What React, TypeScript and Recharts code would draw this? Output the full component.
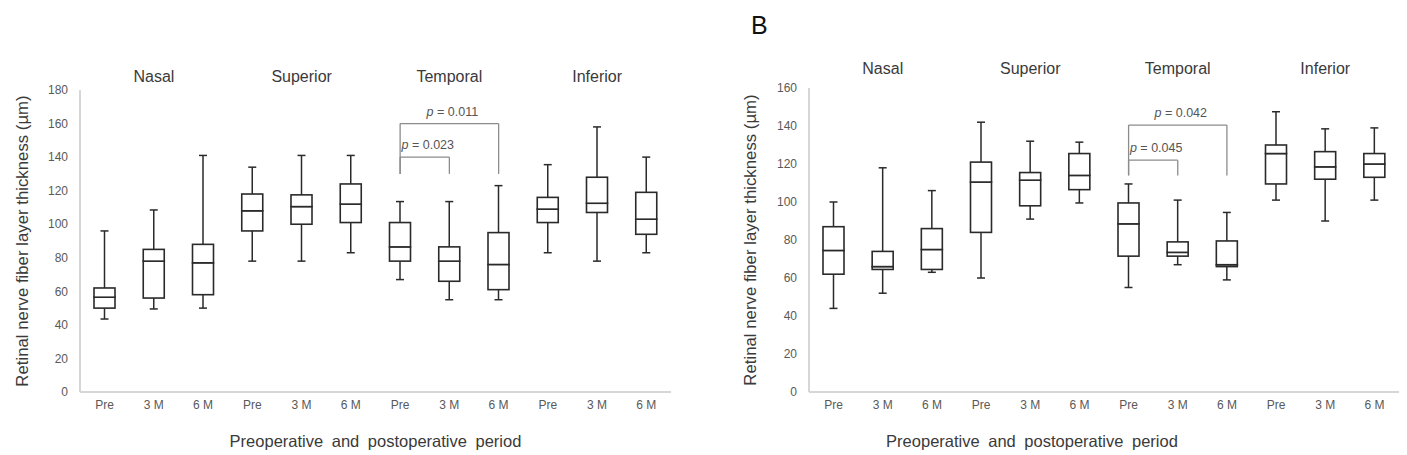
import React from "react";
import { ComposedChart, Bar, Line, XAxis, YAxis, ReferenceLine } from "recharts";

// ── Data ──────────────────────────────────────────────────────

const SECTORS = ["Nasal", "Superior", "Temporal", "Inferior"];
const PERIODS = ["Pre", "3 M", "6 M"];

// Panel A (µm), one entry per sector × period
const A_MIN = [43.5, 49.5, 50, 78, 78, 83, 67, 55, 55, 83, 78, 83];
const A_Q1 = [50, 56, 58, 96, 100, 101, 78, 66, 61, 101, 107, 94];
const A_MEDIAN = [56.5, 78, 77, 108, 110.5, 112, 86.5, 78, 76, 109, 112.5, 103];
const A_Q3 = [62, 85, 88, 118, 117.5, 124, 101, 86.5, 95, 116, 128, 119];
const A_MAX = [96, 108.5, 141, 134, 141, 141, 113.5, 113.5, 123, 135.5, 158, 140];
const A_TICKS = [0, 20, 40, 60, 80, 100, 120, 140, 160, 180];

// Panel B (µm)
const B_MIN = [44, 52, 63, 60, 91, 99.5, 55, 67, 59, 101, 90, 101];
const B_Q1 = [62, 64.5, 64.5, 84, 98, 106.5, 71.5, 71.5, 66, 109.5, 112, 113];
const B_MEDIAN = [74.5, 66, 75, 110.5, 111.5, 114, 88.5, 73.5, 67, 125.5, 118.5, 120];
const B_Q3 = [87, 74, 86, 121, 115.5, 125.5, 99.5, 79, 79.5, 130, 126.5, 125.5];
const B_MAX = [100, 118, 106, 142, 132, 131.5, 109.5, 101, 94.5, 147.5, 138.5, 139];
const B_TICKS = [0, 20, 40, 60, 80, 100, 120, 140, 160];

// Significance brackets: [from, to, bracket top, leg foot, p]
const A_SIG: [string, string, number, number, string][] = [
  ["Temporal|Pre", "Temporal|6 M", 160, 130, "0.011"],
  ["Temporal|Pre", "Temporal|3 M", 140, 130, "0.023"],
];
const B_SIG: [string, string, number, number, string][] = [
  ["Temporal|Pre", "Temporal|6 M", 140.5, 114, "0.042"],
  ["Temporal|Pre", "Temporal|3 M", 122, 114, "0.045"],
];

const Y_TITLE = "Retinal nerve fiber layer thickness (µm)";
const X_TITLE = "Preoperative and postoperative period";

// ── Styling ───────────────────────────────────────────────────

const FONT = "'Liberation Sans', Arial, sans-serif";
const INK = "#2a2a2a";
const AXIS = "#d6d6d6";
const TICK = "#595959";
const TITLE = "#3a3a3a";
const CAP = 4;

// stacked segments: invisible base, lower whisker, lower box, upper box, upper whisker
function buildRows(min: number[], q1: number[], med: number[], q3: number[], max: number[]) {
  return SECTORS.flatMap((sector, si) =>
    PERIODS.map((period, pi) => {
      const i = si * PERIODS.length + pi;
      return {
        key: `${sector}|${period}`,
        base: min[i],
        lowWhisker: q1[i] - min[i],
        lowBox: med[i] - q1[i],
        highBox: q3[i] - med[i],
        highWhisker: max[i] - q3[i],
      };
    })
  );
}

// ── Shapes ────────────────────────────────────────────────────

function LowWhisker(p: any) {
  const cx = p.x + p.width / 2;
  const bottom = p.y + p.height;
  return (
    <g stroke={INK} strokeWidth={1.5}>
      <line x1={cx} x2={cx} y1={p.y} y2={bottom} />
      <line x1={cx - CAP} x2={cx + CAP} y1={bottom} y2={bottom} />
    </g>
  );
}

function HighWhisker(p: any) {
  const cx = p.x + p.width / 2;
  return (
    <g stroke={INK} strokeWidth={1.5}>
      <line x1={cx} x2={cx} y1={p.y} y2={p.y + p.height} />
      <line x1={cx - CAP} x2={cx + CAP} y1={p.y} y2={p.y} />
    </g>
  );
}

function BoxPart(p: any) {
  return (
    <rect x={p.x} y={p.y} width={p.width} height={Math.max(p.height, 0)}
      fill="#fff" stroke={INK} strokeWidth={1.6} />
  );
}

function SectorTick({ x, y, payload }: any) {
  const [sector, period] = String(payload.value).split("|");
  if (period !== PERIODS[1]) return <g />;
  return (
    <text x={x} y={y} textAnchor="middle" fontSize={16} fill={TITLE}>
      {sector}
    </text>
  );
}

function PValue({ viewBox, text }: any) {
  if (!viewBox) return null;
  const cx = viewBox.x + viewBox.width / 2 + 3;
  return (
    <text x={cx} y={viewBox.y - 8} textAnchor="middle" fontSize={12.5} fill="#555">
      <tspan fontStyle="italic">p</tspan> = {text}
    </text>
  );
}

// ── Panel ─────────────────────────────────────────────────────

interface PanelProps {
  rows: ReturnType<typeof buildRows>;
  ticks: number[];
  sig: [string, string, number, number, string][];
  width: number;
  yAxisWidth: number;
  rightMargin: number;
  topHeight: number;
  titleGap: number;
  yTitleDx: number;
  xTitleDx: number;
}

function BoxPanel({ rows, ticks, sig, width, yAxisWidth, rightMargin, topHeight, titleGap, yTitleDx, xTitleDx }: PanelProps) {
  return (
    <ComposedChart
      width={width}
      height={455}
      data={rows}
      margin={{ top: 0, right: rightMargin, bottom: 3, left: 0 }}
    >
      <XAxis
        xAxisId="sector"
        orientation="top"
        dataKey="key"
        height={topHeight}
        interval={0}
        axisLine={false}
        tickLine={false}
        tickMargin={titleGap}
        tick={<SectorTick />}
      />
      <XAxis
        xAxisId="period"
        dataKey="key"
        height={60}
        interval={0}
        tickLine={false}
        axisLine={{ stroke: AXIS, strokeWidth: 2 }}
        tick={{ fontSize: 12, fill: TICK }}
        tickFormatter={(v: string) => v.split("|")[1]}
        label={{
          value: X_TITLE,
          position: "insideBottom",
          dx: xTitleDx,
          style: { fontSize: 16.5, fill: TITLE, wordSpacing: 4 },
        }}
      />
      <YAxis
        width={yAxisWidth}
        domain={[ticks[0], ticks[ticks.length - 1]]}
        ticks={ticks}
        interval={0}
        tickLine={false}
        tickMargin={6}
        axisLine={{ stroke: AXIS, strokeWidth: 2 }}
        tick={{ fontSize: 12, fill: TICK }}
        label={{
          value: Y_TITLE,
          angle: -90,
          position: "insideLeft",
          dx: yTitleDx,
          style: { fontSize: 16.8, fill: TITLE, textAnchor: "middle" },
        }}
      />

      <Bar xAxisId="period" dataKey="base" stackId="box" barSize={21} fill="transparent" isAnimationActive={false} />
      <Bar xAxisId="period" dataKey="lowWhisker" stackId="box" barSize={21} shape={LowWhisker} isAnimationActive={false} />
      <Bar xAxisId="period" dataKey="lowBox" stackId="box" barSize={21} shape={BoxPart} isAnimationActive={false} />
      <Bar xAxisId="period" dataKey="highBox" stackId="box" barSize={21} shape={BoxPart} isAnimationActive={false} />
      <Bar xAxisId="period" dataKey="highWhisker" stackId="box" barSize={21} shape={HighWhisker} isAnimationActive={false} />
      <Line xAxisId="sector" dataKey="base" stroke="none" dot={false} activeDot={false} legendType="none" isAnimationActive={false} />

      {sig.map(([from, to, top, foot, p]) => (
        <React.Fragment key={p}>
          <ReferenceLine
            xAxisId="period"
            segment={[{ x: from, y: top }, { x: to, y: top }]}
            stroke="#8c8c8c"
            strokeWidth={1.3}
            label={<PValue text={p} />}
          />
          <ReferenceLine xAxisId="period" segment={[{ x: from, y: top }, { x: from, y: foot }]} stroke="#8c8c8c" strokeWidth={1.3} />
          <ReferenceLine xAxisId="period" segment={[{ x: to, y: top }, { x: to, y: foot }]} stroke="#8c8c8c" strokeWidth={1.3} />
        </React.Fragment>
      ))}
    </ComposedChart>
  );
}

// ── App ───────────────────────────────────────────────────────

export default function App() {
  const rowsA = buildRows(A_MIN, A_Q1, A_MEDIAN, A_Q3, A_MAX);
  const rowsB = buildRows(B_MIN, B_Q1, B_MEDIAN, B_Q3, B_MAX);

  return (
    <div style={{ position: "absolute", left: 0, top: 0, width: 1407, height: 455, background: "#fff", fontFamily: FONT }}>
      <div style={{ position: "absolute", left: 0, top: 0 }}>
        <BoxPanel rows={rowsA} ticks={A_TICKS} sig={A_SIG} width={690} yAxisWidth={80} rightMargin={19}
          topHeight={90} titleGap={2} yTitleDx={17} xTitleDx={0} />
      </div>
      <div style={{ position: "absolute", left: 700, top: 0 }}>
        <BoxPanel rows={rowsB} ticks={B_TICKS} sig={B_SIG} width={707} yAxisWidth={109} rightMargin={8}
          topHeight={88} titleGap={8} yTitleDx={45} xTitleDx={-72} />
      </div>
      <div style={{ position: "absolute", left: 751, top: 13, fontSize: 25, lineHeight: 1, color: "#111" }}>B</div>
    </div>
  );
}
